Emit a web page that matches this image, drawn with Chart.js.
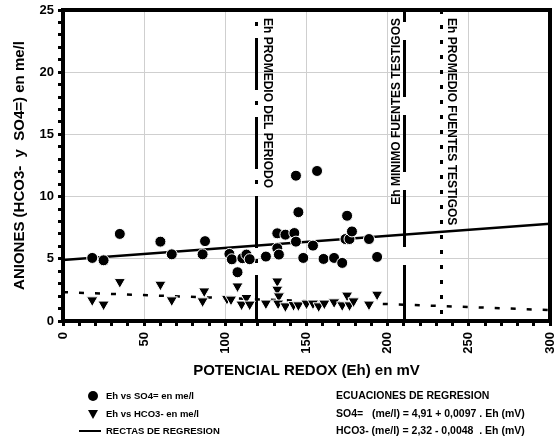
<!DOCTYPE html>
<html>
<head>
<meta charset="UTF-8">
<title>Aniones vs potencial redox</title>
<script src="https://cdn.jsdelivr.net/npm/chart.js@4.4.0/dist/chart.umd.min.js"></script>
<style>
 body{margin:0;background:#fff;}
</style>
</head>
<body>
<canvas id="canvas" width="558" height="441"></canvas>
<script>
// Eh (mV) and SO4= (me/l) for each sample
var ehSO4 = [18, 25, 35, 60, 67, 86, 87.5, 102.5, 104, 107.5, 110.5, 113, 115, 125, 132, 133, 132, 137, 142.5, 143.5, 143.5, 145, 148, 154, 156.5, 160.5, 167, 172, 174, 175, 176.5, 178, 188.5, 193.5];
var so4   = [5.07, 4.88, 7.0, 6.38, 5.36, 5.36, 6.42, 5.39, 4.96, 3.92, 5.05, 5.34, 4.97, 5.18, 5.85, 5.34, 7.05, 6.94, 7.07, 6.38, 11.68, 8.75, 5.07, 6.06, 12.06, 4.99, 5.07, 4.67, 6.59, 8.46, 6.59, 7.2, 6.59, 5.15];

// Eh (mV) and HCO3- (me/l)
var ehHCO3 = [18, 25, 35, 60, 67, 87, 86, 101, 103.5, 107.5, 110, 113, 115, 125, 132, 132, 133, 132.5, 137, 142, 145, 150, 154, 157.5, 161, 167, 172, 175, 176.5, 179, 188.5, 193.5];
var hco3   = [1.68, 1.34, 3.15, 2.94, 1.68, 2.4, 1.6, 1.8, 1.74, 2.8, 1.34, 1.87, 1.34, 1.42, 3.2, 2.54, 2.0, 1.42, 1.2, 1.3, 1.28, 1.42, 1.42, 1.2, 1.42, 1.52, 1.28, 2.06, 1.28, 1.6, 1.34, 2.14];

// regression lines, end points
var regX = [0, 300];
var regSO4 = [4.91, 7.82];
var regHCO3 = [2.32, 0.88];

// reference Eh lines
var refEh = [119, 210, 233];
var refLabels = ["Eh PROMEDIO DEL PERIODO", "Eh MINIMO FUENTES TESTIGOS", "Eh PROMEDIO FUENTES TESTIGOS"];

var xTitle = "POTENCIAL REDOX (Eh) en mV";
var yTitle = "ANIONES (HCO3-  y  SO4=) en me/l";
var legendLabels = ["Eh vs SO4= en me/l", "Eh vs HCO3- en me/l", "RECTAS DE REGRESION"];
var eqTitle = "ECUACIONES DE REGRESION";
var eqLines = ["SO4=   (me/l) = 4,91 + 0,0097 . Eh (mV)", "HCO3- (me/l) = 2,32 - 0,0048  . Eh (mV)"];

var FONT = "'Liberation Sans', Arial, sans-serif";

function pts(xs, ys) {
    var out = [];
    for (var i = 0; i < xs.length; i++) out.push({x: xs[i], y: ys[i]});
    return out;
}

var extras = {
    id: 'extras',
    beforeDatasetsDraw: function(chart) {
        var ctx = chart.ctx, xs = chart.scales.x, a = chart.chartArea;
        var dashes = [[52, 11, 4, 12], [57, 18], [4, 11]];
        var offsets = [51, 45, 0];
        ctx.save();
        ctx.strokeStyle = '#000';
        ctx.lineWidth = 3;
        for (var i = 0; i < refEh.length; i++) {
            var px = Math.round(xs.getPixelForValue(refEh[i])) + 0.5;
            ctx.setLineDash(dashes[i]);
            ctx.lineDashOffset = offsets[i];
            ctx.beginPath();
            ctx.moveTo(px, a.top);
            ctx.lineTo(px, a.bottom);
            ctx.stroke();
        }
        ctx.setLineDash([]);

        // labels beside the lines
        ctx.fillStyle = '#000';
        ctx.font = 'bold 12px ' + FONT;
        ctx.textBaseline = 'middle';
        var p0 = xs.getPixelForValue(refEh[0]);
        ctx.save();
        ctx.translate(p0 + 11, a.top + 8);
        ctx.rotate(Math.PI / 2);
        ctx.textAlign = 'left';
        ctx.fillText(refLabels[0], 0, 0);
        ctx.restore();

        var p1 = xs.getPixelForValue(refEh[1]);
        ctx.save();
        ctx.translate(p1 - 7, a.top + 8);
        ctx.rotate(-Math.PI / 2);
        ctx.textAlign = 'right';
        ctx.fillText(refLabels[1], 0, 0);
        ctx.restore();

        var p2 = xs.getPixelForValue(refEh[2]);
        ctx.save();
        ctx.translate(p2 + 10, a.top + 8);
        ctx.rotate(Math.PI / 2);
        ctx.textAlign = 'left';
        ctx.fillText(refLabels[2], 0, 0);
        ctx.restore();
        ctx.restore();
    },
    afterDraw: function(chart) {
        var ctx = chart.ctx, a = chart.chartArea;
        ctx.save();
        // frame
        ctx.strokeStyle = '#000';
        ctx.lineWidth = 4;
        ctx.strokeRect(a.left, a.top, a.right - a.left, a.bottom - a.top);

        // axis titles
        ctx.fillStyle = '#000';
        ctx.font = 'bold 15px ' + FONT;
        ctx.textAlign = 'center';
        ctx.textBaseline = 'middle';
        ctx.fillText(xTitle, (a.left + a.right) / 2, 371);
        ctx.save();
        ctx.translate(20, (a.top + a.bottom) / 2);
        ctx.rotate(-Math.PI / 2);
        ctx.fillText(yTitle, 0, 0);
        ctx.restore();

        // legend
        var rows = [396, 414, 431];
        ctx.font = 'bold 9.5px ' + FONT;
        ctx.textAlign = 'left';
        ctx.beginPath();
        ctx.arc(93, rows[0], 5, 0, Math.PI * 2);
        ctx.fill();
        ctx.beginPath();
        ctx.moveTo(88, rows[1] - 4);
        ctx.lineTo(98, rows[1] - 4);
        ctx.lineTo(93, rows[1] + 5);
        ctx.closePath();
        ctx.fill();
        ctx.lineWidth = 2;
        ctx.beginPath();
        ctx.moveTo(79, rows[2]);
        ctx.lineTo(101, rows[2]);
        ctx.stroke();
        for (var i = 0; i < legendLabels.length; i++) {
            ctx.fillText(legendLabels[i], 106, rows[i]);
        }
        ctx.font = 'bold 10.5px ' + FONT;
        ctx.fillText(eqTitle, 336, rows[0]);
        ctx.fillText(eqLines[0], 336, rows[1]);
        ctx.fillText(eqLines[1], 336, rows[2]);
        ctx.restore();
    }
};

var ctx = document.getElementById("canvas").getContext("2d");
var chart = new Chart(ctx, {
    type: 'scatter',
    data: {
        datasets: [{
            label: legendLabels[0],
            data: pts(ehSO4, so4),
            pointStyle: 'circle',
            pointRadius: 5.5,
            backgroundColor: '#000',
            borderColor: '#fff',
            borderWidth: 1,
            order: 1
        }, {
            label: legendLabels[1],
            data: pts(ehHCO3, hco3),
            pointStyle: 'triangle',
            pointRotation: 180,
            pointRadius: 6.5,
            backgroundColor: '#000',
            borderColor: '#fff',
            borderWidth: 1,
            order: 1
        }, {
            label: 'SO4 reg',
            data: pts(regX, regSO4),
            showLine: true,
            pointRadius: 0,
            borderColor: '#000',
            borderWidth: 2.5,
            order: 2
        }, {
            label: 'HCO3 reg',
            data: pts(regX, regHCO3),
            showLine: true,
            pointRadius: 0,
            borderColor: '#000',
            borderWidth: 2.5,
            borderDash: [5, 11],
            order: 2
        }]
    },
    options: {
        responsive: false,
        animation: false,
        devicePixelRatio: 1,
        layout: {padding: {top: 10, right: 8, left: 0, bottom: 0}},
        plugins: {legend: {display: false}, tooltip: {enabled: false}},
        scales: {
            x: {
                type: 'linear',
                min: 0, max: 300,
                afterFit: function(s) { s.height = 120; s.paddingLeft = 0; s.paddingRight = 0; },
                border: {display: false},
                grid: {
                    color: function(c) { return c.tick && c.tick.value % 50 === 0 ? '#cfcfcf' : 'rgba(0,0,0,0)'; },
                    lineWidth: 1,
                    tickColor: '#000',
                    tickWidth: 3,
                    tickLength: 5
                },
                ticks: {
                    stepSize: 10,
                    autoSkip: false,
                    minRotation: 90,
                    maxRotation: 90,
                    padding: 6,
                    color: '#000',
                    font: {family: FONT, size: 13, weight: 'bold'},
                    callback: function(v) { return v % 50 === 0 ? v : ''; }
                }
            },
            y: {
                min: 0, max: 25,
                afterFit: function(s) { s.width = 63; s.paddingTop = 0; s.paddingBottom = 0; },
                border: {display: false},
                grid: {
                    color: function(c) { return c.tick && c.tick.value % 5 === 0 ? '#cfcfcf' : 'rgba(0,0,0,0)'; },
                    lineWidth: 1,
                    tickColor: '#000',
                    tickWidth: 3,
                    tickLength: 5
                },
                ticks: {
                    stepSize: 1,
                    autoSkip: false,
                    padding: 4,
                    color: '#000',
                    font: {family: FONT, size: 13, weight: 'bold'},
                    callback: function(v) { return v % 5 === 0 ? v : ''; }
                }
            }
        }
    },
    plugins: [extras]
});
</script>
</body>
</html>
